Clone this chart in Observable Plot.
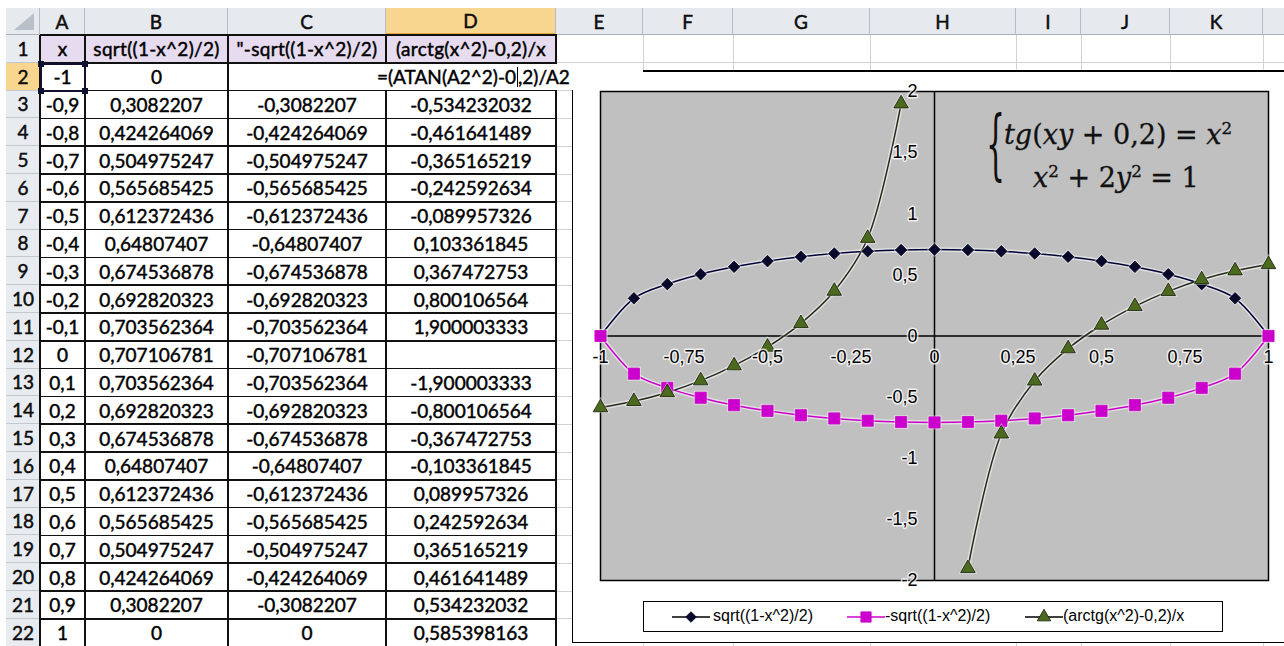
<!DOCTYPE html>
<html><head><meta charset="utf-8">
<script src="https://cdn.jsdelivr.net/npm/d3@7"></script>
<script src="https://cdn.jsdelivr.net/npm/@observablehq/plot@0.6"></script>
<style>
html,body{margin:0;padding:0;}
body{width:1284px;height:646px;overflow:hidden;background:#fff;position:relative;font-family:Lato,"Noto Sans",sans-serif;}
.abs{position:absolute;box-sizing:border-box;}
.cell{position:absolute;box-sizing:border-box;display:flex;align-items:center;justify-content:center;font-size:19px;color:#000;white-space:nowrap;-webkit-text-stroke:0.45px #000;}
.eq{position:absolute;font-family:"DejaVu Serif",serif;font-size:27px;color:#111;white-space:nowrap;line-height:1;z-index:5;-webkit-text-stroke:0.3px #111;}
.eq i{font-style:italic;}
.eq sup{font-size:0.62em;vertical-align:0.6em;line-height:0;}
#legend{font-family:"Liberation Sans",Arial,sans-serif;font-size:16px;color:#000;}
</style></head><body>
<script>
// ---------- data ----------
const columnLetters = ["A","B","C","D","E","F","G","H","I","J","K",""];
const headerTexts = ["x", "sqrt((1-x^2)/2)", "\"-sqrt((1-x^2)/2)", "(arctg(x^2)-0,2)/x"];
const xValues = [-1,-0.9,-0.8,-0.7,-0.6,-0.5,-0.4,-0.3,-0.2,-0.1,0,0.1,0.2,0.3,0.4,0.5,0.6,0.7,0.8,0.9,1];
const upperY = [0,0.3082207,0.424264069,0.504975247,0.565685425,0.612372436,0.64807407,0.674536878,0.692820323,0.703562364,0.707106781,0.703562364,0.692820323,0.674536878,0.64807407,0.612372436,0.565685425,0.504975247,0.424264069,0.3082207,0];
const lowerY = [0,-0.3082207,-0.424264069,-0.504975247,-0.565685425,-0.612372436,-0.64807407,-0.674536878,-0.692820323,-0.703562364,-0.707106781,-0.703562364,-0.692820323,-0.674536878,-0.64807407,-0.612372436,-0.565685425,-0.504975247,-0.424264069,-0.3082207,0];
const arcY = [-0.585398163,-0.534232032,-0.461641489,-0.365165219,-0.242592634,-0.089957326,0.103361845,0.367472753,0.800106564,1.900003333,null,-1.900003333,-0.800106564,-0.367472753,-0.103361845,0.089957326,0.242592634,0.365165219,0.461641489,0.534232032,0.585398163];
const formulaD2 = ["=(ATAN(A2^2)-0", ",2)/A2"];
const xTicks = [-1,-0.75,-0.5,-0.25,0,0.25,0.5,0.75,1];
const yTicks = [-2,-1.5,-1,-0.5,0,0.5,1,1.5,2];
const seriesNames = ["sqrt((1-x^2)/2)", "-sqrt((1-x^2)/2)", "(arctg(x^2)-0,2)/x"];

// ---------- helpers ----------
const fmtNum = v => v == null ? "" : String(+v.toFixed(9)).replace(".", ",");
const fmtTick = v => String(v).replace(".", ",");
function el(cls, css, text, parent = document.body) {
  const d = document.createElement("div");
  d.className = cls;
  Object.assign(d.style, css);
  if (text != null) d.textContent = text;
  parent.appendChild(d);
  return d;
}
const px = v => v + "px";

// ---------- layout ----------
const colX = [6,40,85,228,386,556,643,733,870,1016,1081,1170,1263,1300];
const HEAD_TOP = 8, ROW0 = 35, RH = 27.8, NROWS = 22;
const rowTop = r => ROW0 + (r - 1) * RH;

// grid lines (gray) for columns E..
for (let r = 1; r <= NROWS; r++) {
  el("abs", {left: px(556), top: px(rowTop(r + 1) - 0.5), width: px(800), height: "1px", background: "#d2d2d2"});
}
for (let c = 6; c < colX.length; c++) {
  el("abs", {left: px(colX[c]), top: px(ROW0), width: "1px", height: px(620), background: "#d2d2d2"});
}
// header row
el("abs", {left: px(6), top: px(HEAD_TOP), width: px(1300), height: px(ROW0 - HEAD_TOP), background: "#e6e9ee", borderBottom: "1px solid #a8b0ba"});
el("abs", {left: px(6), top: px(HEAD_TOP), width: px(34), height: px(ROW0 - HEAD_TOP), borderRight: "1px solid #b5bcc5"});
// corner triangle
el("abs", {left: px(14), top: px(HEAD_TOP + 5), width: 0, height: 0, borderLeft: "20px solid transparent", borderBottom: "17px solid #b9c0c9"});
for (let c = 0; c < columnLetters.length; c++) {
  const x0 = colX[c + 1], x1 = colX[c + 2];
  el("cell", {left: px(x0), top: px(HEAD_TOP), width: px(x1 - x0), height: px(ROW0 - HEAD_TOP),
    background: c === 3 ? "#f8d68f" : "transparent", borderRight: "1px solid #b5bcc5",
    borderBottom: c === 3 ? "2px solid #e9a942" : "none", color: "#111"}, columnLetters[c]);
}
// row headers
for (let r = 1; r <= NROWS; r++) {
  el("cell", {left: px(6), top: px(rowTop(r)), width: px(34), height: px(RH),
    background: r === 2 ? "#f8d68f" : "#e8ebf0", borderBottom: "1px solid #c3c9d1", color: "#111"}, String(r));
}
// row 1 header cells (lilac)
for (let c = 0; c < 4; c++) {
  el("cell", {left: px(colX[c + 1]), top: px(rowTop(1)), width: px(colX[c + 2] - colX[c + 1]), height: px(RH),
    background: "#e6dbef", letterSpacing: c === 0 ? "0" : "0.3px"}, headerTexts[c]);
}
// data cells
for (let i = 0; i < xValues.length; i++) {
  const r = i + 2, t = rowTop(r);
  const vals = [fmtTick(xValues[i]), fmtNum(upperY[i]), i === 0 ? "" : fmtNum(lowerY[i]), i === 0 ? "" : fmtNum(arcY[i])];
  for (let c = 0; c < 4; c++) {
    el("cell", {left: px(colX[c + 1]), top: px(t), width: px(colX[c + 2] - colX[c + 1]), height: px(RH)}, vals[c]);
  }
}
// black table borders
for (let k = 0; k <= NROWS; k++) {
  el("abs", {left: px(40), top: px(rowTop(k + 1) - 0.75), width: px(517), height: "1.5px", background: "#111"});
}
for (const x of [40, 85, 228, 386, 556]) {
  el("abs", {left: px(x - 0.75), top: px(ROW0), width: "1.5px", height: px(620), background: "#111"});
}

// ---------- chart box ----------
el("abs", {left: px(572), top: px(70), width: px(740), height: px(573), background: "#fff",
  borderLeft: "1.5px solid #000", borderTop: "2px solid #000", borderBottom: "1.5px solid #000", zIndex: 2});

const pts = xValues.map((x, i) => ({x, up: upperY[i], lo: lowerY[i], arc: arcY[i]}));
const styles = {
  up:  {line: "#000036", fill: "#08082a", stroke: "#08082a", symbol: "diamond2", r: 5.2},
  lo:  {line: "#cc00cc", fill: "#cc00cc", stroke: "#cc00cc", symbol: "square", r: 6.3},
  arc: {line: "#262a1a", fill: "#4b6a1e", stroke: "#141a08", symbol: "triangle", r: 5.4}
};
const keys = ["up", "lo", "arc"];
const marks = [
  Plot.frame({fill: "#c0c0c0", stroke: "#000", strokeWidth: 1.5}),
  Plot.ruleY([0], {stroke: "#000", strokeWidth: 1.5}),
  Plot.ruleX([0], {stroke: "#000", strokeWidth: 1.5})
];
for (const k of keys) marks.push(Plot.line(pts, {x: "x", y: k, curve: "catmull-rom", stroke: "#fff", strokeWidth: 4.5, strokeOpacity: 0.5}));
for (const k of keys) marks.push(Plot.line(pts, {x: "x", y: k, curve: "catmull-rom", stroke: styles[k].line, strokeWidth: 1.5}));
for (const k of keys) {
  const s = styles[k];
  marks.push(Plot.dot(pts, {x: "x", y: k, symbol: s.symbol, r: s.r + 1.6, fill: "#fff", fillOpacity: 0.45}));
  marks.push(Plot.dot(pts, {x: "x", y: k, symbol: s.symbol, r: s.r, fill: s.fill, stroke: s.stroke, strokeWidth: 0.8}));
}
marks.push(Plot.text(yTicks, {x: () => 0, y: d => d, text: fmtTick, textAnchor: "end", dx: -17,
  fontSize: 18, fill: "#000", stroke: "#fff", strokeWidth: 3, strokeOpacity: 0.75}));
marks.push(Plot.text(xTicks, {x: d => d, y: () => 0, text: fmtTick, dy: 21,
  fontSize: 18, fill: "#000", stroke: "#fff", strokeWidth: 3, strokeOpacity: 0.75}));

const chart = Plot.plot({
  width: 712, height: 515,
  marginLeft: 28, marginRight: 16, marginTop: 20, marginBottom: 6,
  x: {domain: [-1, 1], axis: null},
  y: {domain: [-2, 2], axis: null},
  style: {background: "transparent", overflow: "visible", fontFamily: "'Liberation Sans', Arial, sans-serif"},
  marks
});
Object.assign(chart.style, {position: "absolute", left: "572px", top: "71px", zIndex: 3});
document.body.appendChild(chart);

// equation annotation
el("eq", {left: px(986), top: px(106), fontSize: "30px", transform: "scaleY(2.55)", transformOrigin: "0 0", WebkitTextStroke: "0"}, "{");
const eq1 = el("eq", {left: px(1004), top: px(121)});
eq1.innerHTML = "<i>tg</i>(<i>xy</i> + 0,2) = <i>x</i><sup>2</sup>";
const eq2 = el("eq", {left: px(1033), top: px(164)});
eq2.innerHTML = "<i>x</i><sup>2</sup> + 2<i>y</i><sup>2</sup> = 1";

// legend
const legend = el("abs", {left: px(643), top: px(601), width: px(580), height: px(31), border: "1.5px solid #000", background: "#fff", zIndex: 4});
legend.id = "legend";
const legendPos = [[27, 69], [202, 241], [380, 419]];
keys.forEach((k, i) => {
  const s = styles[k];
  const svg = d3.create("svg").attr("width", 40).attr("height", 20)
    .style("position", "absolute").style("left", px(legendPos[i][0])).style("top", "5px");
  svg.append("line").attr("x1", 1).attr("x2", 39).attr("y1", 10).attr("y2", 10).attr("stroke", k === "lo" ? "#cc00cc" : "#000").attr("stroke-width", 1.4);
  const sym = {diamond2: d3.symbolDiamond2, square: d3.symbolSquare, triangle: d3.symbolTriangle}[s.symbol];
  svg.append("path").attr("d", d3.symbol(sym, Math.PI * s.r * s.r * 0.85)()).attr("transform", "translate(20,10)")
    .attr("fill", s.fill).attr("stroke", s.stroke).attr("stroke-width", 0.8);
  legend.appendChild(svg.node());
  el("abs", {left: px(legendPos[i][1]), top: "5px", lineHeight: "18px", whiteSpace: "nowrap"}, seriesNames[i], legend);
});

// formula edit box in D2
const edit = el("abs", {left: px(376), top: px(rowTop(2) + 0.75), width: px(267), height: px(RH - 1.5), background: "#fff",
  zIndex: 6, display: "flex", alignItems: "center", fontSize: "19px", whiteSpace: "nowrap", paddingLeft: "1px", WebkitTextStroke: "0.45px #000"});
edit.appendChild(document.createTextNode(formulaD2[0]));
const cur = document.createElement("span");
Object.assign(cur.style, {display: "inline-block", width: "0", height: "20px", borderLeft: "1px solid #000", margin: "0 0.5px"});
edit.appendChild(cur);
edit.appendChild(document.createTextNode(formulaD2[1]));

// A2 reference highlight
el("abs", {left: px(40), top: px(rowTop(2)), width: px(46), height: px(RH + 1), border: "2px solid #101030", zIndex: 6});
for (const [x, y] of [[38, rowTop(2) - 2], [82, rowTop(2) - 2], [38, rowTop(3) - 3], [82, rowTop(3) - 3]]) {
  el("abs", {left: px(x), top: px(y), width: "6px", height: "6px", background: "#101030", zIndex: 7});
}
</script>
</body></html>
